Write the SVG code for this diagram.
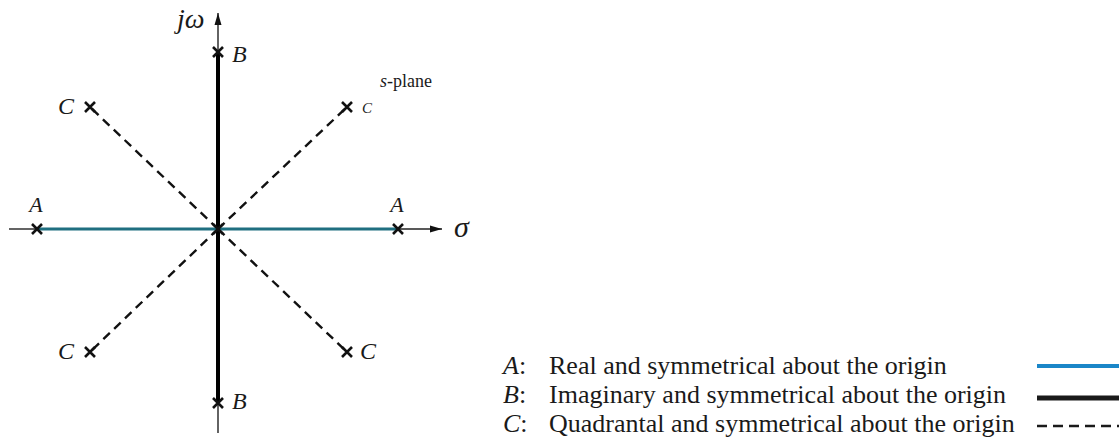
<svg xmlns="http://www.w3.org/2000/svg" width="1119" height="440" viewBox="0 0 1119 440">
<defs>
<style>
.t{font-family:"Liberation Serif","Times New Roman",serif;fill:#1a1a1a}
.i{font-style:italic}
.thin{stroke:#222;stroke-width:1.4;fill:none}
.x{stroke:#111;stroke-width:2.6;fill:none}
.dash{stroke:#111;stroke-width:2.4;stroke-dasharray:9,6;fill:none}
</style>
<marker id="ah" viewBox="0 0 12 10" refX="12" refY="5" markerWidth="12" markerHeight="10" markerUnits="userSpaceOnUse" orient="auto"><path d="M0,1.5 L12,5 L0,8.5 Z" fill="#111"/></marker>
<path id="cross" d="M-5,-5 L5,5 M-5,5 L5,-5"/>
</defs>
<rect width="1119" height="440" fill="#fff"/>
<g id="connectors">
<path class="dash" d="M218,229 L90,107"/>
<path class="dash" d="M218,229 L347,107"/>
<path class="dash" d="M218,229 L90,352"/>
<path class="dash" d="M218,229 L347,352"/>
<line class="thin" x1="9" y1="229" x2="37" y2="229"/>
<line class="thin" x1="398" y1="229" x2="442" y2="229" marker-end="url(#ah)"/>
<line x1="37" y1="229" x2="398" y2="229" stroke="#1f6f80" stroke-width="3.2"/>
<line class="thin" x1="218" y1="52" x2="218" y2="13" marker-end="url(#ah)"/>
<line class="thin" x1="218" y1="403" x2="218" y2="433"/>
<line x1="218" y1="52" x2="218" y2="403" stroke="#000" stroke-width="4"/>
</g>
<g id="poles">
<use href="#cross" class="x" x="37" y="229"/>
<use href="#cross" class="x" x="398" y="229"/>
<use href="#cross" class="x" x="218" y="52"/>
<use href="#cross" class="x" x="218" y="403"/>
<use href="#cross" class="x" x="218" y="229"/>
<use href="#cross" class="x" x="90" y="107"/>
<use href="#cross" class="x" x="347" y="107"/>
<use href="#cross" class="x" x="90" y="352"/>
<use href="#cross" class="x" x="347" y="352"/>
</g>
<g id="labels">
<text class="t i" x="177" y="28" font-size="28">jω</text>
<text class="t i" x="454" y="237" font-size="30">σ</text>
<text class="t" x="380" y="87" font-size="18"><tspan font-style="italic">s</tspan>-plane</text>
<text class="t i" x="36" y="212" font-size="22" text-anchor="middle">A</text>
<text class="t i" x="397" y="212" font-size="22" text-anchor="middle">A</text>
<text class="t i" x="232" y="62" font-size="24">B</text>
<text class="t i" x="232" y="409" font-size="24">B</text>
<text class="t i" x="58" y="114" font-size="24">C</text>
<text class="t i" x="362" y="113" font-size="15">C</text>
<text class="t i" x="58" y="359" font-size="24">C</text>
<text class="t i" x="360" y="359" font-size="24">C</text>
</g>
<g id="legend">
<text class="t" x="503" y="374" font-size="26"><tspan font-style="italic">A</tspan>:</text>
<text class="t" x="549" y="374" font-size="26">Real and symmetrical about the origin</text>
<text class="t" x="503" y="403" font-size="26"><tspan font-style="italic">B</tspan>:</text>
<text class="t" x="549" y="403" font-size="26">Imaginary and symmetrical about the origin</text>
<text class="t" x="503" y="432" font-size="26"><tspan font-style="italic">C</tspan>:</text>
<text class="t" x="549" y="432" font-size="26">Quadrantal and symmetrical about the origin</text>
<line x1="1037" y1="366" x2="1119" y2="366" stroke="#1a86c8" stroke-width="4"/>
<line x1="1037" y1="398" x2="1119" y2="398" stroke="#1a1a1a" stroke-width="5"/>
<line x1="1037" y1="426" x2="1119" y2="426" stroke="#1a1a1a" stroke-width="2.5" stroke-dasharray="10,6"/>
</g>
</svg>
